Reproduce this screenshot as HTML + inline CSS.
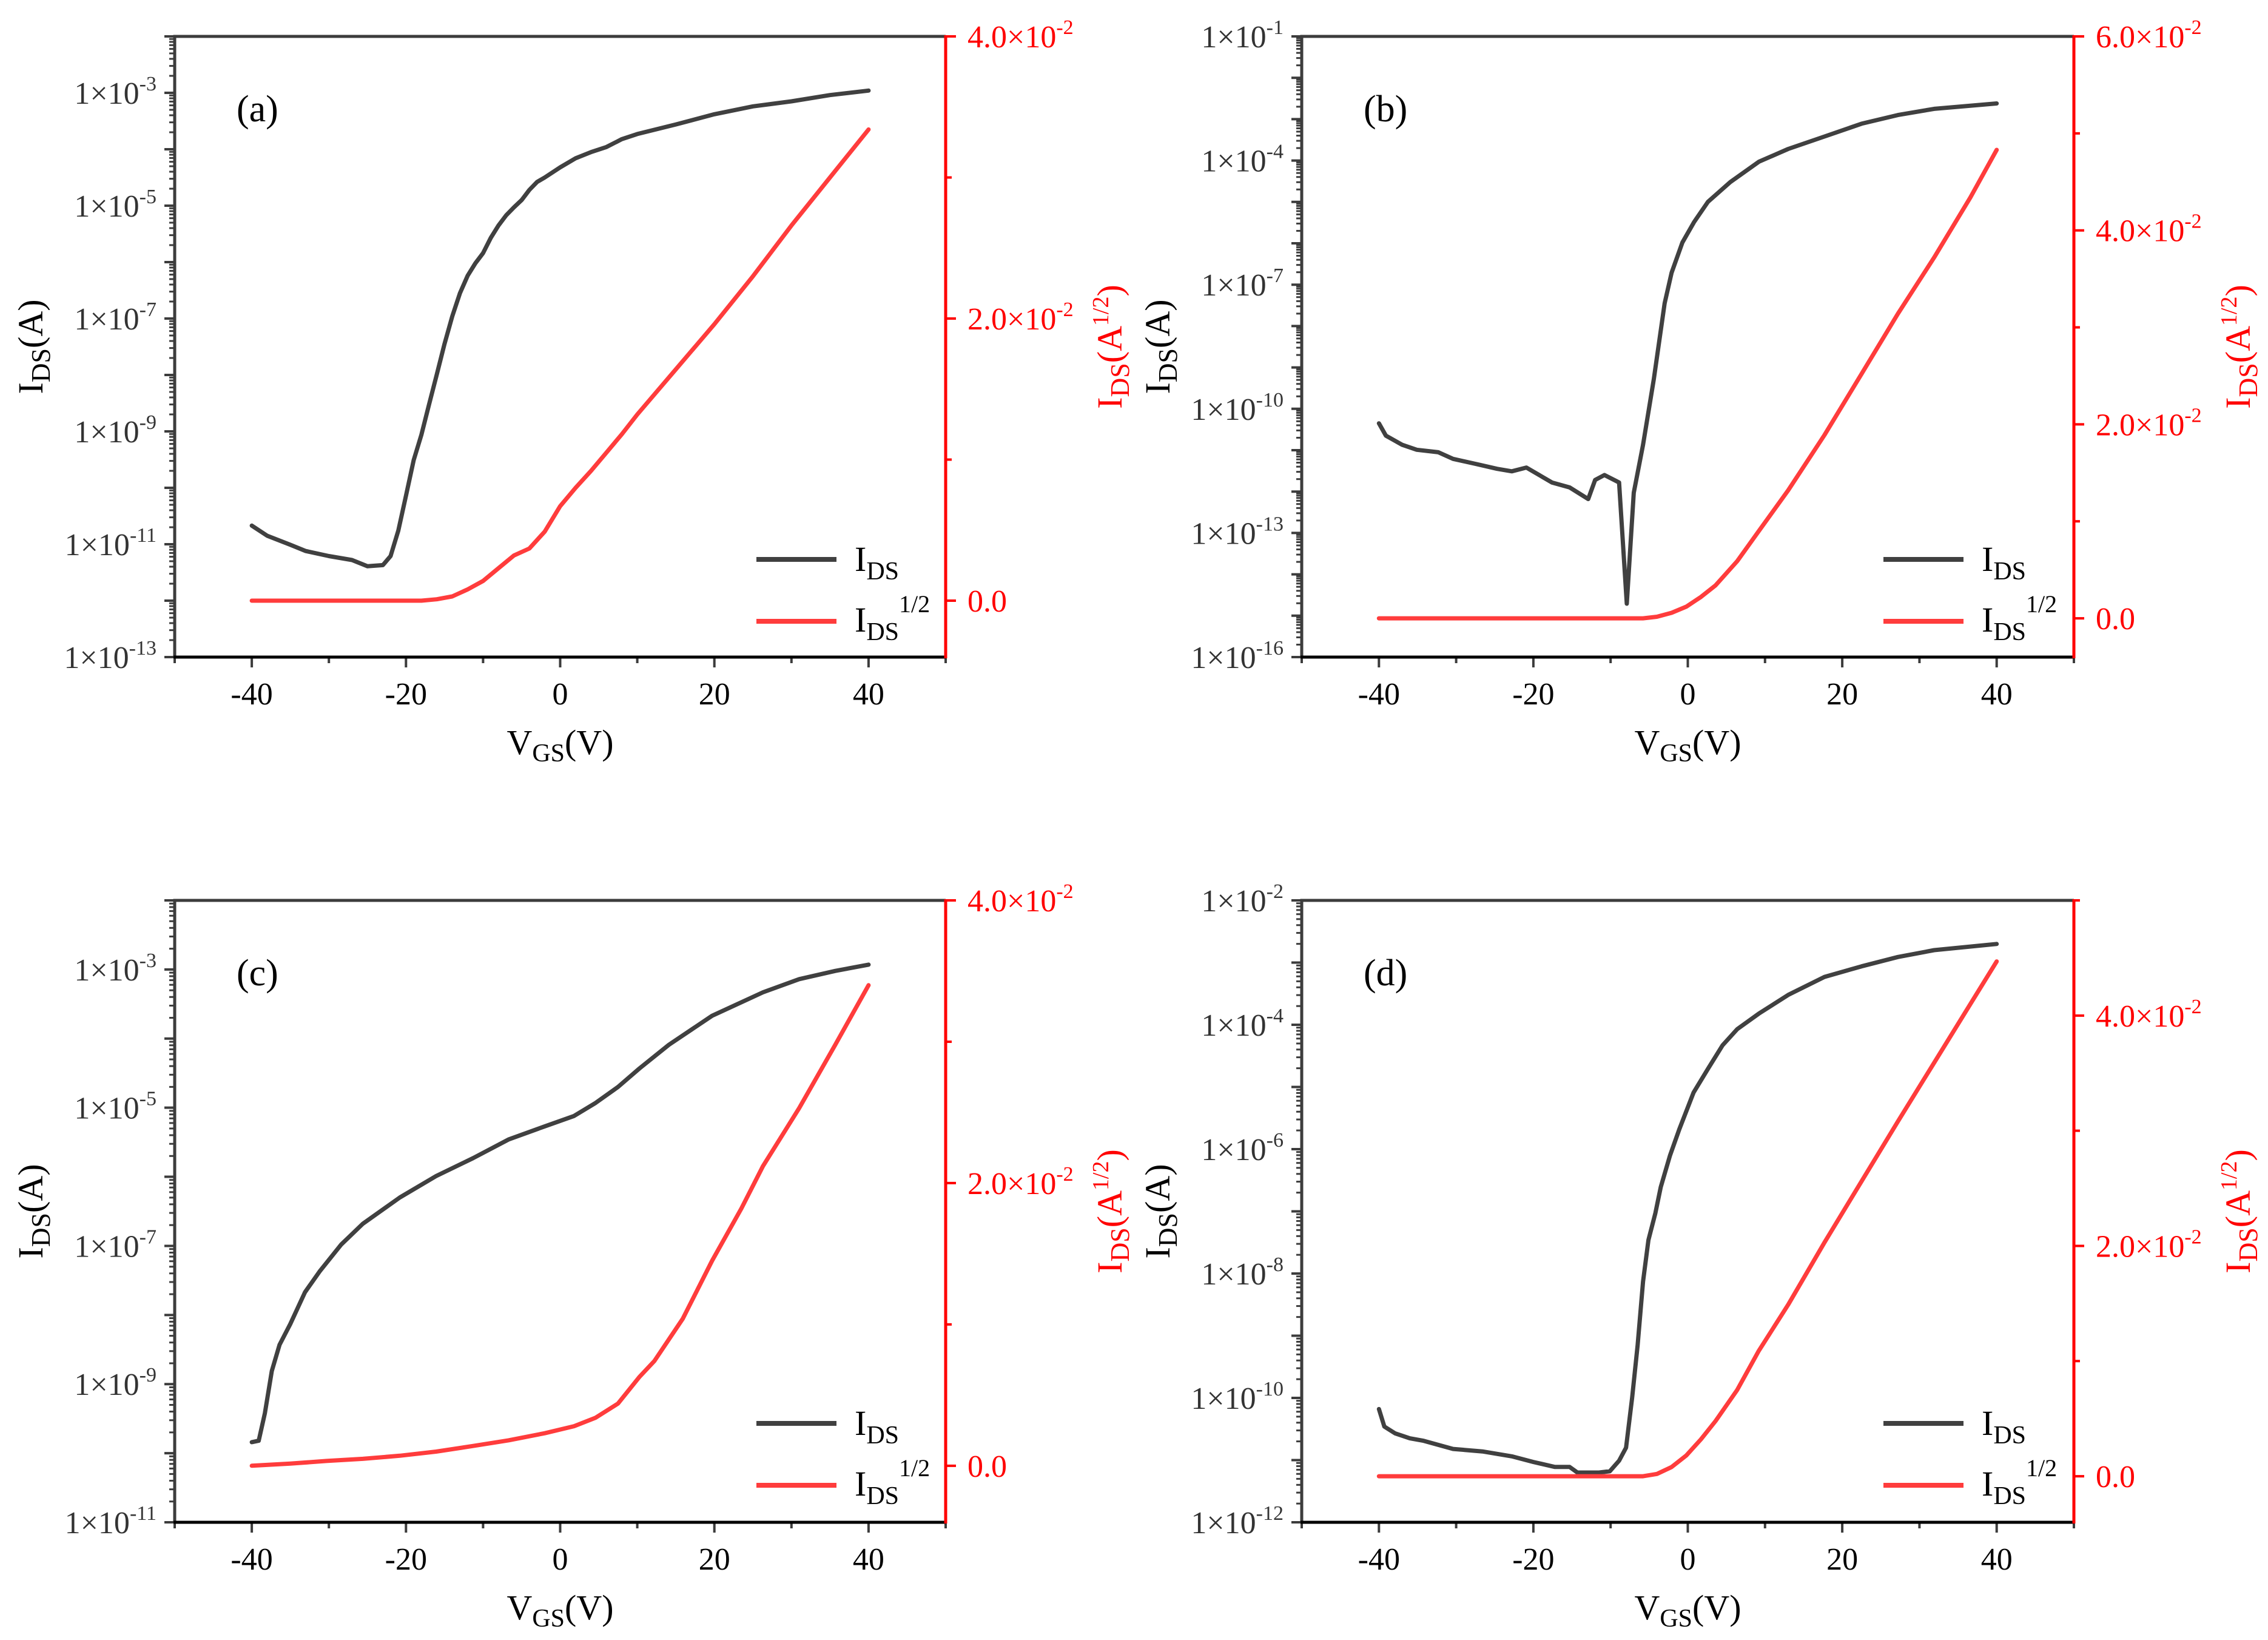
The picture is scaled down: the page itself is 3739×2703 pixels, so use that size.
<!DOCTYPE html>
<html><head><meta charset="utf-8"><style>
html,body{margin:0;padding:0;background:#fff}
svg{display:block}
text{font-family:"Liberation Serif","Times New Roman",serif}
</style></head><body>
<svg id="chart" width="3739" height="2703" viewBox="0 0 3739 2703" xmlns="http://www.w3.org/2000/svg"></svg>
<script>
// ---------- Panel (a) data ----------
const aVgs=[-40,-38,-35,-33,-30,-27,-25,-23,-22,-21,-20,-19,-18,-17,-16,-15,-14,-13,-12,-11,-10,-9,-8,-7,-6,-5,-4,-3,-2,0,2,4,6,8,10,15,20,25,30,35,40];
const aLogIds=[-10.67,-10.85,-11.01,-11.12,-11.21,-11.28,-11.39,-11.37,-11.21,-10.76,-10.14,-9.51,-9.06,-8.52,-7.99,-7.45,-6.96,-6.55,-6.24,-6.02,-5.84,-5.57,-5.35,-5.17,-5.03,-4.90,-4.72,-4.58,-4.50,-4.32,-4.16,-4.05,-3.96,-3.82,-3.73,-3.56,-3.38,-3.24,-3.15,-3.04,-2.96];
const aVgsSqrt=[-40,-18,-16,-14,-12,-10,-8,-6,-4,-2,0,2,4,6,8,10,15,20,25,30,35,40];
const aSqrt=[0,0,0.0001,0.0003,0.0008,0.0014,0.0023,0.0032,0.0037,0.0049,0.0067,0.008,0.0092,0.0105,0.0118,0.0132,0.0164,0.0196,0.023,0.0266,0.030,0.0334];
// ---------- Panel (b) data ----------
const bVgs=[-40,-39.1,-37,-35.1,-32.3,-30.4,-27.5,-24.7,-22.8,-20.9,-17.6,-15.3,-12.9,-12,-10.8,-8.9,-7.9,-7,-5.8,-4.4,-3,-2.1,-0.7,0.8,2.6,5.5,9.2,13,17.7,22.5,27.2,31.9,40];
const bLogIds=[-10.35,-10.65,-10.87,-10.99,-11.05,-11.21,-11.33,-11.45,-11.51,-11.42,-11.78,-11.90,-12.18,-11.72,-11.60,-11.78,-14.71,-12.03,-10.87,-9.28,-7.45,-6.71,-5.98,-5.49,-5.00,-4.52,-4.03,-3.72,-3.42,-3.11,-2.90,-2.75,-2.62];
const bVgsSqrt=[-40,-5.8,-4,-2.1,-0.2,1.7,3.6,6.4,9.2,13,17.7,22.5,27.2,31.9,36.6,40];
const bSqrt=[0,0,0.00016,0.00057,0.0012,0.0022,0.0034,0.0059,0.009,0.0132,0.0189,0.0252,0.0314,0.0372,0.0434,0.0483];
// ---------- Panel (c) data ----------
const cVgs=[-40,-39.1,-38.3,-37.4,-36.4,-35,-33.1,-31.2,-28.4,-25.6,-20.8,-16.1,-11.3,-6.7,-2,1.8,4.6,7.5,10.3,14.1,19.7,26.3,31,35.7,40];
const cLogIds=[-9.84,-9.82,-9.42,-8.81,-8.43,-8.13,-7.67,-7.37,-6.98,-6.68,-6.30,-5.99,-5.73,-5.46,-5.27,-5.12,-4.93,-4.70,-4.43,-4.09,-3.67,-3.33,-3.14,-3.02,-2.93];
const cVgsSqrt=[-40,-35,-30.3,-25.6,-20.8,-16.1,-11.3,-6.7,-2,1.8,4.6,7.5,10.3,12.2,15.9,19.7,23.5,26.3,31,35.7,40];
const cSqrt=[0,0.00015,0.00034,0.00049,0.00071,0.001,0.0014,0.0018,0.0023,0.0028,0.0034,0.0044,0.0063,0.0074,0.0104,0.0145,0.0182,0.0212,0.0253,0.0298,0.034];
// ---------- Panel (d) data ----------
const dVgs=[-40,-39.3,-37.9,-36,-34.2,-30.4,-26.6,-22.8,-20,-17.2,-15.3,-14.3,-11.5,-10.1,-8.9,-8,-7.2,-6.5,-5.8,-5.1,-4.2,-3.5,-2.3,-1.1,0.75,2.6,4.5,6.4,9.2,13,17.7,22.5,27.2,31.9,40];
const dLogIds=[-10.18,-10.46,-10.57,-10.65,-10.69,-10.82,-10.86,-10.94,-11.03,-11.11,-11.11,-11.20,-11.20,-11.18,-11.01,-10.80,-9.99,-9.15,-8.13,-7.46,-7.03,-6.61,-6.10,-5.68,-5.09,-4.71,-4.33,-4.07,-3.82,-3.52,-3.23,-3.06,-2.91,-2.80,-2.70];
const dVgsSqrt=[-40,-5.8,-4,-2.1,-0.2,1.7,3.6,6.4,9.2,13,17.7,22.5,27.2,31.9,40];
const dSqrt=[0,0,0.0002,0.0008,0.0018,0.0032,0.0048,0.0075,0.0109,0.0149,0.0203,0.0256,0.0308,0.0359,0.0447];
// ---------- Axis tick data ----------
const xMajorTicks=[-40,-20,0,20,40];
const aLogLabels=[-13,-11,-9,-7,-5,-3];
const bLogLabels=[-16,-13,-10,-7,-4,-1];
const cLogLabels=[-11,-9,-7,-5,-3];
const dLogLabels=[-12,-10,-8,-6,-4,-2];
const rightLabels004=[0,0.02,0.04];
const rightLabels006=[0,0.02,0.04,0.06];

const NS="http://www.w3.org/2000/svg";
const svg=document.getElementById('chart');
const BLK="#3c3c3c", RED="#ff0000", REDL="#ff3c3c";
function mk(tag,attrs,parent){const e=document.createElementNS(NS,tag);for(const k in attrs)e.setAttribute(k,attrs[k]);(parent||svg).appendChild(e);return e;}

function supText(parent,x,y,base,sup,anchor,fill,name){
  const t=mk('text',{x:x,y:y,'font-size':52,'text-anchor':anchor,fill:fill},parent);
  
  
  const a=mk('tspan',{},t);a.textContent=base;
  const b=mk('tspan',{'font-size':34,dy:-22},t);b.textContent=sup;
  return t;
}

function panel(cfg,V,L,SV,S,logLabels,rLabels){
  const g=mk('g',{});
  
  
  const {x0,x1,y0,y1,lmin,lmax,rmin,rmax,rmaxTick}=cfg;
  const X=v=>x0+(v+50)/100*(x1-x0);
  const YL=l=>y1-(l-lmin)/(lmax-lmin)*(y1-y0);
  const YR=s=>y1-(s-rmin)/(rmax-rmin)*(y1-y0);
  // x ticks
  for(let v=-50;v<=50;v+=10){
    const major=xMajorTicks.includes(v);
    const tk=mk('line',{x1:X(v),x2:X(v),y1:y1,y2:y1+(major?17:10),stroke:BLK,'stroke-width':4},g);
    
    
  }
  xMajorTicks.forEach(v=>{
    const t=mk('text',{x:X(v),y:y1+78,'font-size':52,'text-anchor':'middle',fill:'#000'},g);
    
    
    t.textContent=String(v);
  });
  // left log ticks
  for(let d=lmin;d<=lmax;d++){
    const ly=YL(d);
    const tk=mk('line',{x1:x0,x2:x0-17,y1:ly,y2:ly,stroke:BLK,'stroke-width':4},g);
    
    
    if(d<lmax){for(let m=2;m<=9;m++){const my=YL(d+Math.log10(m));
      const mt=mk('line',{x1:x0,x2:x0-9,y1:my,y2:my,stroke:BLK,'stroke-width':3},g);
      
      }}
  }
  logLabels.forEach(d=>{supText(g,x0-30,YL(d)+18,'1×10',String(d),'end','#333','y-left-tick-label');});
  // right ticks
  for(let i=0;i<=Math.round(rmaxTick/0.01);i++){
    const s=i*0.01;const major=rLabels.some(r=>Math.abs(r-s)<1e-9);
    const tk=mk('line',{x1:x1,x2:x1+(major?17:10),y1:YR(s),y2:YR(s),stroke:RED,'stroke-width':4},g);
    
    
  }
  rLabels.forEach(s=>{
    if(s===0){const t=mk('text',{x:x1+36,y:YR(s)+18,'font-size':52,fill:RED},g);
      
      
      t.textContent='0.0';}
    else supText(g,x1+36,YR(s)+18,(s*100).toFixed(1)+'×10','-2','start',RED,'y-right-tick-label');
  });
  // spines
  const sp=mk('path',{d:`M${x0},${y1}V${y0}H${x1}`,fill:'none',stroke:BLK,'stroke-width':5},g);
  
  
  const bx=mk('line',{x1:x0-2,x2:x1,y1:y1,y2:y1,stroke:'#000','stroke-width':5},g);
  
  
  const ry=mk('line',{x1:x1,x2:x1,y1:y0-2,y2:y1+2,stroke:RED,'stroke-width':5},g);
  
  
  // series
  const pB=V.map((v,i)=>(i?'L':'M')+X(v).toFixed(1)+','+YL(L[i]).toFixed(1)).join('');
  const lb=mk('path',{d:pB,fill:'none',stroke:'#404040','stroke-width':7,'stroke-linejoin':'round','stroke-linecap':'round'},g);
  
  
  const pR=SV.map((v,i)=>(i?'L':'M')+X(v).toFixed(1)+','+YR(S[i]).toFixed(1)).join('');
  const lr=mk('path',{d:pR,fill:'none',stroke:REDL,'stroke-width':7,'stroke-linejoin':'round','stroke-linecap':'round'},g);
  
  
  // panel label
  const pl=mk('text',{x:x0+102,y:y0+140,'font-size':62,fill:'#000'},g);
  
  
  pl.textContent='('+cfg.id+')';
  // x title
  const xt=mk('text',{x:(x0+x1)/2,y:y1+160,'font-size':58,'text-anchor':'middle',fill:'#000'},g);
  
  
  xt.innerHTML='V<tspan font-size="42" dy="12">GS</tspan><tspan dy="-12">(V)</tspan>';
  // left title
  const cy=(y0+y1)/2;
  const lt=mk('text',{x:0,y:0,'font-size':58,'text-anchor':'middle',fill:'#000',transform:`translate(${x0-218},${cy}) rotate(-90)`},g);
  
  
  lt.innerHTML='I<tspan font-size="44" dy="12">DS</tspan><tspan dy="-12">(A)</tspan>';
  const rt=mk('text',{x:0,y:0,'font-size':58,'text-anchor':'middle',fill:RED,transform:`translate(${x1+290},${cy}) rotate(-90)`},g);
  
  
  rt.innerHTML='I<tspan font-size="44" dy="12">DS</tspan><tspan dy="-12">(A</tspan><tspan font-size="38" dy="-22">1/2</tspan><tspan dy="22">)</tspan>';
  // legend
  const lg=mk('g',{},g);
  
  
  const l1=mk('line',{x1:x0+959,x2:x0+1091,y1:y0+862,y2:y0+862,stroke:'#404040','stroke-width':8},lg);
  
  
  const t1=mk('text',{x:x0+1121,y:y0+881,'font-size':58,fill:'#000'},lg);
  
  
  t1.innerHTML='I<tspan font-size="42" dy="14">DS</tspan>';
  const l2=mk('line',{x1:x0+959,x2:x0+1091,y1:y0+964,y2:y0+964,stroke:REDL,'stroke-width':8},lg);
  
  
  const t2=mk('text',{x:x0+1121,y:y0+981,'font-size':58,fill:'#000'},lg);
  
  
  t2.innerHTML='I<tspan font-size="42" dy="14">DS</tspan><tspan font-size="40" dy="-46">1/2</tspan>';
}

panel({id:'a',x0:288,x1:1559,y0:60,y1:1083,lmin:-13,lmax:-2,rmin:-0.004,rmax:0.04,rmaxTick:0.04},aVgs,aLogIds,aVgsSqrt,aSqrt,aLogLabels,rightLabels004);
panel({id:'b',x0:2146,x1:3419,y0:60,y1:1083,lmin:-16,lmax:-1,rmin:-0.004,rmax:0.06,rmaxTick:0.06},bVgs,bLogIds,bVgsSqrt,bSqrt,bLogLabels,rightLabels006);
panel({id:'c',x0:288,x1:1559,y0:1484,y1:2509,lmin:-11,lmax:-2,rmin:-0.004,rmax:0.04,rmaxTick:0.04},cVgs,cLogIds,cVgsSqrt,cSqrt,cLogLabels,rightLabels004);
panel({id:'d',x0:2146,x1:3419,y0:1484,y1:2509,lmin:-12,lmax:-2,rmin:-0.004,rmax:0.05,rmaxTick:0.05},dVgs,dLogIds,dVgsSqrt,dSqrt,dLogLabels,rightLabels004);
</script>
</body></html>
